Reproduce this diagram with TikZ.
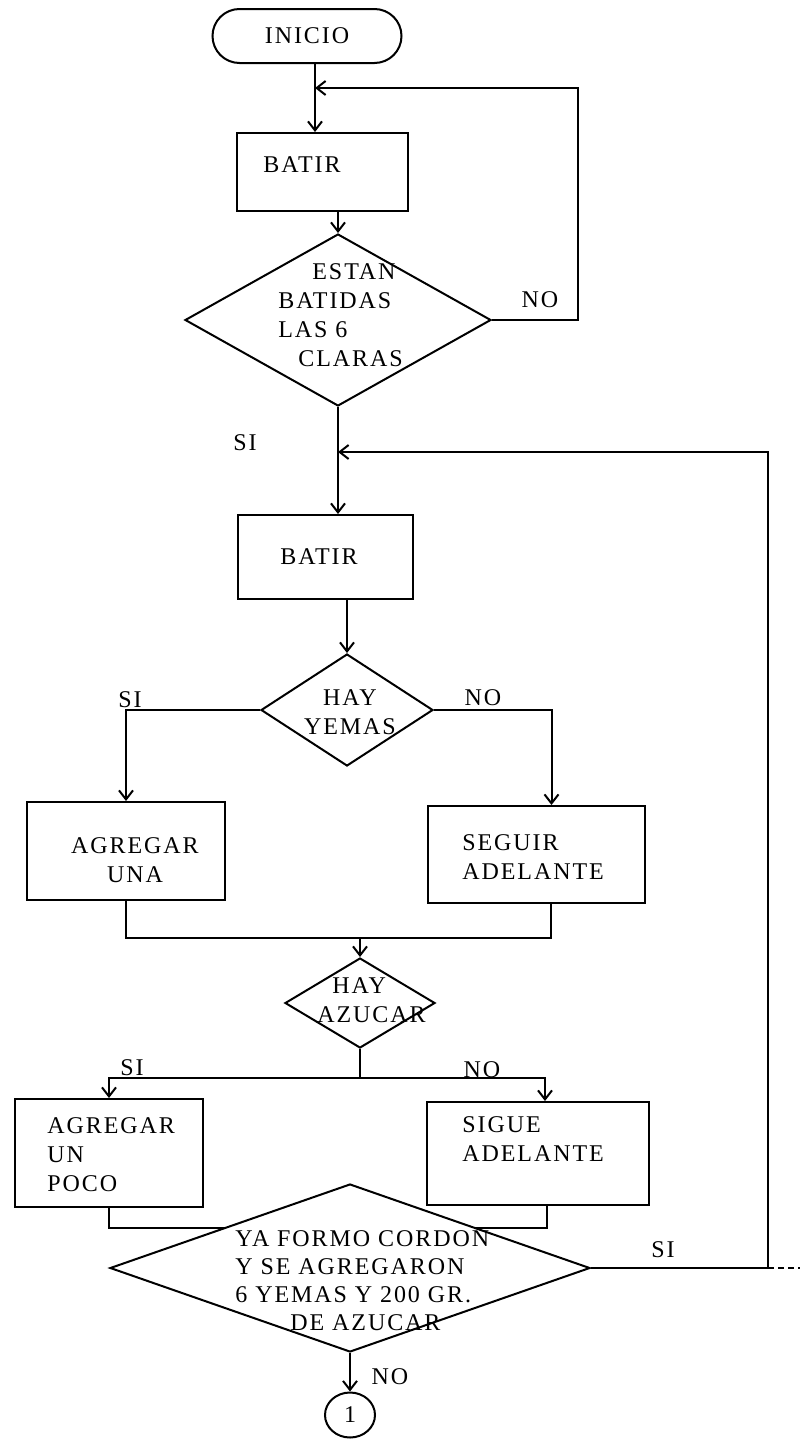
\documentclass[tikz,border=0pt]{standalone}
\usepackage{fontspec}
\setmainfont{Liberation Serif}[LetterSpace=8]
\usetikzlibrary{shapes.geometric,arrows.meta,calc}
\begin{document}
\begin{tikzpicture}[x=0.5pt,y=-0.5pt,
  every node/.style={font=\fontsize{12}{14.5}\selectfont},
  ln/.style={line width=1pt},
  arr/.style={ln,-{Straight Barb[length=4.5pt,width=7pt]}},
  box/.style={draw,ln,rectangle,inner sep=0pt},
  dia/.style={draw,ln,diamond,inner sep=0pt},
  txt/.style={inner sep=0pt,align=left},
  lab/.style={inner sep=0pt}]
\useasboundingbox (0,0) rectangle (800,1440);

% nodes
\node[draw,ln,rounded corners=13.5pt,minimum width=94.5pt,minimum height=27pt,inner sep=0pt] (start) at (307,36) {INICIO};
\node[box,minimum width=85.5pt,minimum height=39pt] (b1) at (322.5,172) {};
\node[txt] (b1t) at (302,165) {BATIR};
\node[dia,minimum width=153pt,minimum height=86pt] (d1) at (338,320) {};
\node[txt,anchor=west] (d1t) at (278,315) {\hspace*{17pt}ESTAN\\BATIDAS\\LAS 6\\\hspace*{10pt}CLARAS};
\node[box,minimum width=87.5pt,minimum height=42pt] (b2) at (325.5,557) {};
\node[txt] (b2t) at (319,557) {BATIR};
\node[dia,minimum width=86pt,minimum height=56pt] (d2) at (347,710) {};
\node[txt,align=center] (d2t) at (350,712) {HAY\\YEMAS};
\node[box,minimum width=99pt,minimum height=49pt] (b3) at (126,851) {};
\node[txt,align=center] (b3t) at (135,860) {AGREGAR\\UNA};
\node[box,minimum width=108.5pt,minimum height=48.5pt] (b4) at (536.5,854.5) {};
\node[txt,anchor=west] (b4t) at (462,857) {SEGUIR\\ADELANTE};
\node[dia,minimum width=75pt,minimum height=45pt] (d3) at (360,1003) {};
\node[txt,anchor=west] (d3t) at (317,1000) {\hspace*{7.5pt}HAY\\AZUCAR};
\node[box,minimum width=94pt,minimum height=54pt] (b5) at (109,1153) {};
\node[txt,anchor=west] (b5t) at (47,1155) {AGREGAR\\UN\\POCO};
\node[box,minimum width=111pt,minimum height=51.5pt] (b6) at (538,1153.5) {};
\node[txt,anchor=west] (b6t) at (462,1139) {SIGUE\\ADELANTE};
\node[dia,minimum width=240pt,minimum height=84pt] (d4) at (350,1268) {};
\node[txt,anchor=west,font=\fontsize{12}{14}\selectfont] (d4t) at (235,1281) {YA FORMO CORDON\\Y SE AGREGARON\\6 YEMAS Y 200 GR.\\\hspace*{27.5pt}DE AZUCAR};
\node[draw,ln,ellipse,minimum width=25pt,minimum height=22.5pt,inner sep=0pt] (conn) at (350,1415) {1};

% coordinates
\coordinate (j1) at (315,88);
\coordinate (r1) at (578,88);
\coordinate (j2) at (338,452);
\coordinate (r2) at (768,452);
\coordinate (e4) at (800,1268);
\coordinate (m1) at (360,938);
\coordinate (m2) at (360,1078);

% connectors
\draw[arr] (start.south -| j1) -- (b1.north -| j1);
\draw[arr] (d1.east) -| (r1) -- (j1);
\node[lab] (no1) at (540,300) {NO};
\draw[arr] (b1.south -| d1.north) -- (d1.north);
\draw[arr] (d1.south) -- (d1.south |- b2.north);
\node[lab] (si1) at (245,443) {SI};
\draw[arr] (d4.east) -| (r2) -- (j2);
\draw[ln,densely dashed] (d4.east -| r2) -- (e4);
\node[lab] (si4) at (663,1250) {SI};
\draw[arr] (b2.south -| d2.north) -- (d2.north);
\draw[arr] (d2.west) -| (b3.north);
\node[lab] (si2) at (130,700) {SI};
\draw[arr] (d2.east) -| ([xshift=7.5pt]b4.north);
\node[lab] (no2) at (483,698) {NO};
\draw[ln] (b3.south) |- (m1);
\draw[ln] ([xshift=7pt]b4.south) |- (m1);
\draw[arr] (m1) -- (d3.north);
\draw[ln] (d3.south) -- (m2);
\draw[arr] (m2) -| (b5.north);
\draw[arr] (m2) -| ([xshift=3.5pt]b6.north);
\node[lab] (si3) at (132,1068) {SI};
\node[lab] (no3) at (482,1070) {NO};
\draw[ln] (b5.south) |- ($(d4.west)!0.476!(d4.north)$);
\draw[ln] ([xshift=4.5pt]b6.south) |- ($(d4.east)!0.476!(d4.north)$);
\draw[arr] (d4.south) -- (conn.north);
\node[lab] (no4) at (390,1377) {NO};
\end{tikzpicture}
\end{document}
